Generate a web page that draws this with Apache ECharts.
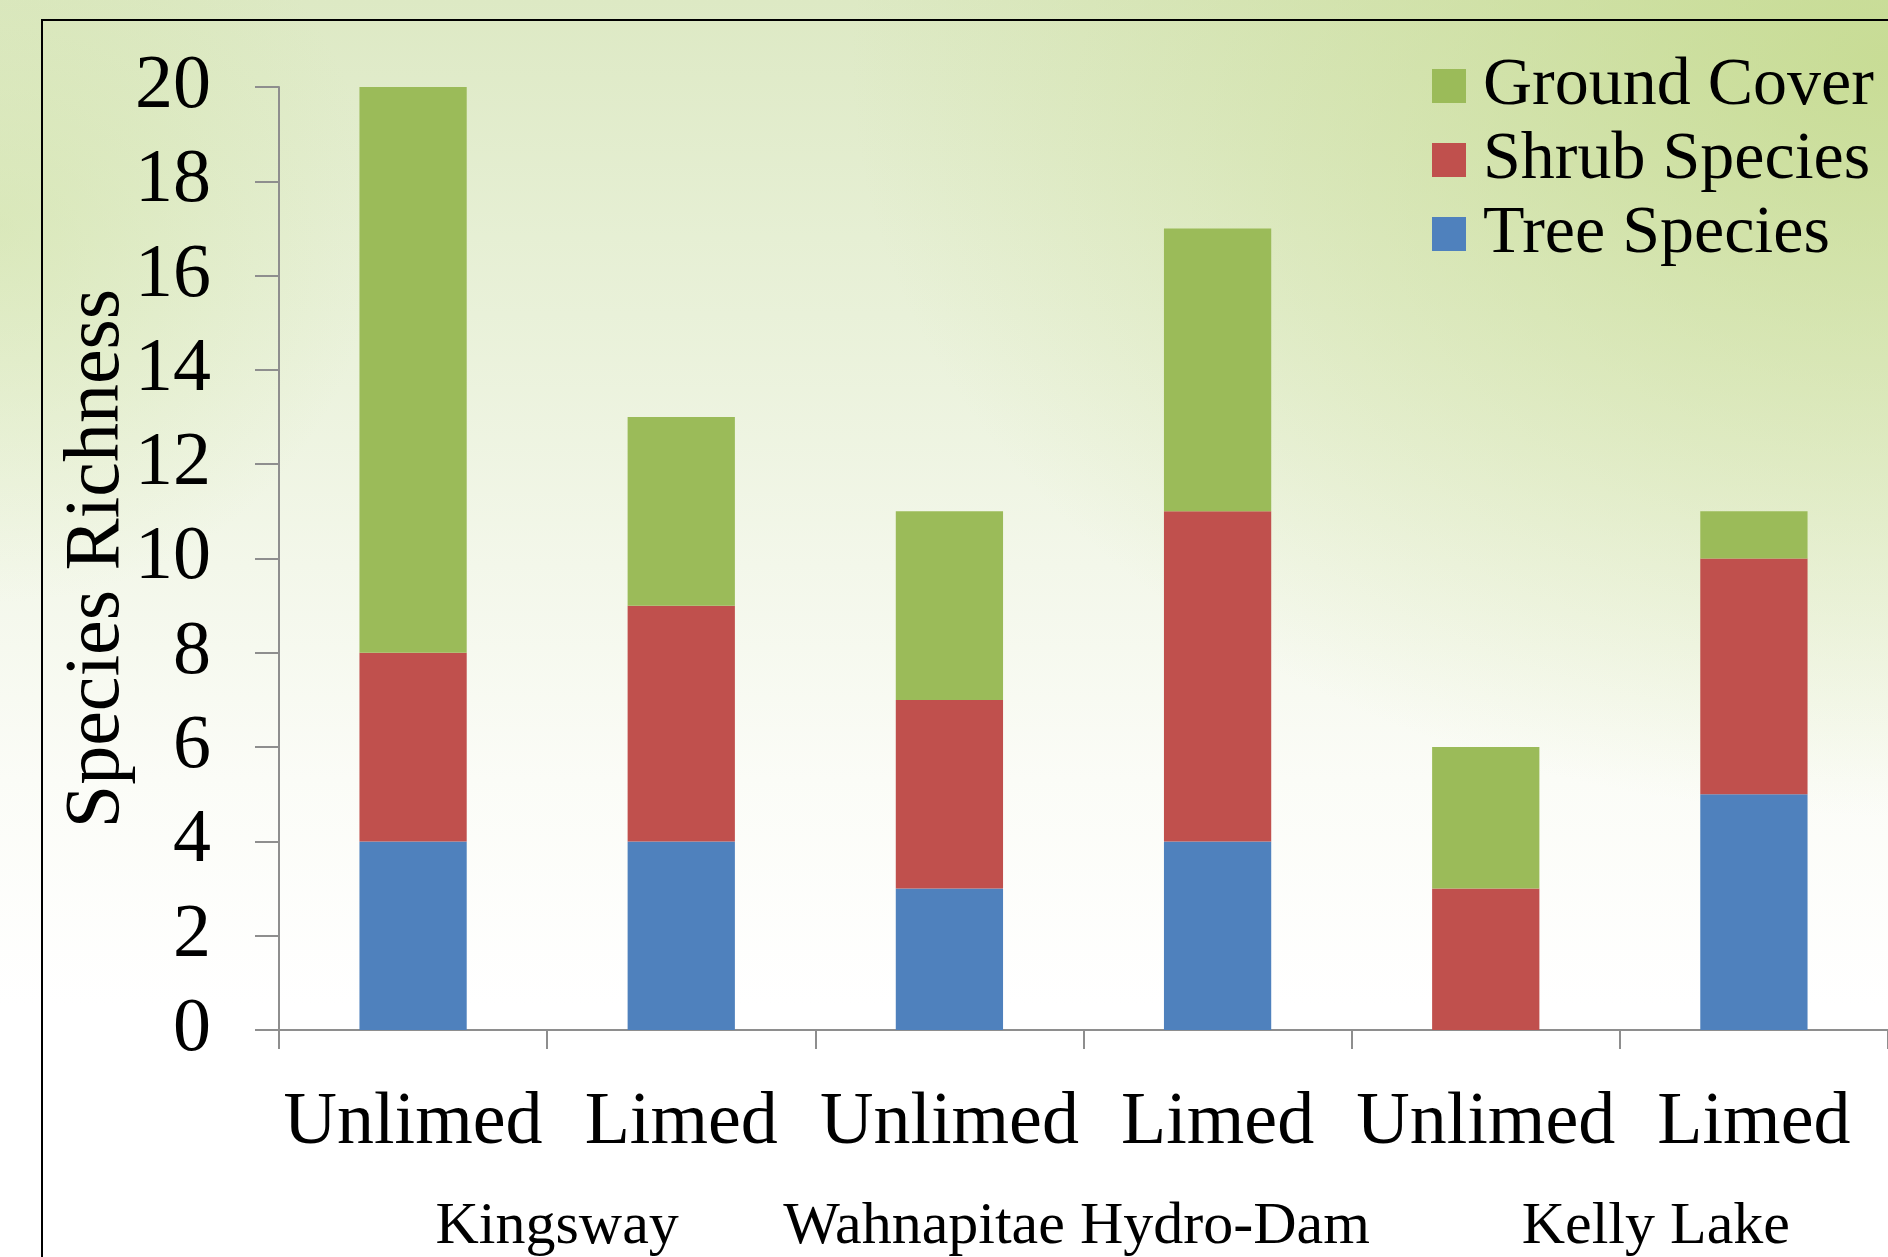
<!DOCTYPE html>
<html>
<head>
<meta charset="utf-8">
<script src="https://cdn.jsdelivr.net/npm/echarts@6/dist/echarts.min.js"></script>
<style>
  html, body { margin: 0; padding: 0; }
  body {
    width: 1888px; height: 1257px; overflow: hidden;
    background:
      radial-gradient(ellipse 55% 60% at 100% 5%, rgba(190, 214, 128, 0.7) 0%, rgba(190, 214, 128, 0) 100%),
      radial-gradient(ellipse 20% 30% at 0% 18%, rgba(200, 222, 150, 0.4) 0%, rgba(200, 222, 150, 0) 100%),
      linear-gradient(to bottom, #dde9c4 0%, #e9f1d9 25%, #f3f7ea 45%, #fbfcf7 62%, #ffffff 80%);
  }
  #main { width: 1888px; height: 1257px; }
</style>
</head>
<body>
<div id="main"></div>
<script>
// 类别 / 分组
const treatments = ['Unlimed', 'Limed', 'Unlimed', 'Limed', 'Unlimed', 'Limed']
const sites = ['Kingsway', 'Wahnapitae Hydro-Dam', 'Kelly Lake']
// 各层数值（自下而上）
const treeSpecies = [4, 4, 3, 4, 0, 5]
const shrubSpecies = [4, 5, 4, 7, 3, 5]
const groundCover = [12, 4, 4, 6, 3, 1]
const yTicks = [0, 2, 4, 6, 8, 10, 12, 14, 16, 18, 20]

const serif = '"Liberation Serif", "DejaVu Serif", serif'
const axisGray = '#8e8e8e'

const chart = echarts.init(document.getElementById('main'))

const option = {
  backgroundColor: 'transparent',
  textStyle: { fontFamily: serif, color: '#000' },
  graphic: [
    {
      // 外框
      type: 'rect',
      shape: { x: 42, y: 20, width: 1900, height: 1300 },
      style: { fill: 'none', stroke: '#000', lineWidth: 2 },
      silent: true,
      z: -1
    }
  ],
  legend: {
    orient: 'vertical',
    left: 1427,
    top: 47,
    itemWidth: 34,
    itemHeight: 34,
    itemGap: 6,
    icon: 'rect',
    data: ['Ground Cover', 'Shrub Species', 'Tree Species'],
    textStyle: {
      fontFamily: serif,
      fontSize: 68,
      lineHeight: 68,
      color: '#000',
      padding: [0, 0, 0, 12]
    }
  },
  grid: {
    left: 279,
    top: 87,
    width: 1611,
    height: 944,
    containLabel: false
  },
  xAxis: [
    {
      type: 'category',
      data: treatments,
      position: 'bottom',
      axisLine: { show: true, lineStyle: { color: axisGray, width: 2 } },
      axisTick: { show: true, length: 19, lineStyle: { color: axisGray, width: 2 } },
      axisLabel: {
        interval: 0,
        margin: 57,
        fontFamily: serif,
        fontSize: 74,
        color: '#000'
      }
    },
    {
      type: 'category',
      data: [
        { value: sites[0], textStyle: { padding: [0, 0, 0, 20] } },
        { value: sites[1], textStyle: { padding: [0, 14, 0, 0] } },
        { value: sites[2], textStyle: { padding: [0, 0, 0, 72] } }
      ],
      position: 'bottom',
      offset: 155,
      axisLine: { show: false },
      axisTick: { show: false },
      axisLabel: {
        interval: 0,
        margin: 12,
        fontFamily: serif,
        fontSize: 60,
        color: '#000'
      }
    }
  ],
  yAxis: {
    type: 'value',
    min: yTicks[0],
    max: yTicks[yTicks.length - 1],
    interval: 2,
    name: 'Species Richness',
    nameLocation: 'middle',
    nameGap: 142,
    nameMoveOverlap: false,
    nameTextStyle: { fontFamily: serif, fontSize: 78, color: '#000' },
    axisLine: { show: true, lineStyle: { color: axisGray, width: 2 } },
    axisTick: { show: true, length: 24, lineStyle: { color: axisGray, width: 2 } },
    splitLine: { show: false },
    axisLabel: {
      margin: 68,
      fontFamily: serif,
      fontSize: 76,
      color: '#000'
    }
  },
  series: [
    {
      name: 'Tree Species',
      type: 'bar',
      stack: 'total',
      barWidth: '40%',
      data: treeSpecies,
      itemStyle: { color: '#4F81BD' }
    },
    {
      name: 'Shrub Species',
      type: 'bar',
      stack: 'total',
      barWidth: '40%',
      data: shrubSpecies,
      itemStyle: { color: '#C0504D' }
    },
    {
      name: 'Ground Cover',
      type: 'bar',
      stack: 'total',
      barWidth: '40%',
      data: groundCover,
      itemStyle: { color: '#9BBB59' }
    }
  ]
}

chart.setOption(option)
</script>
</body>
</html>
